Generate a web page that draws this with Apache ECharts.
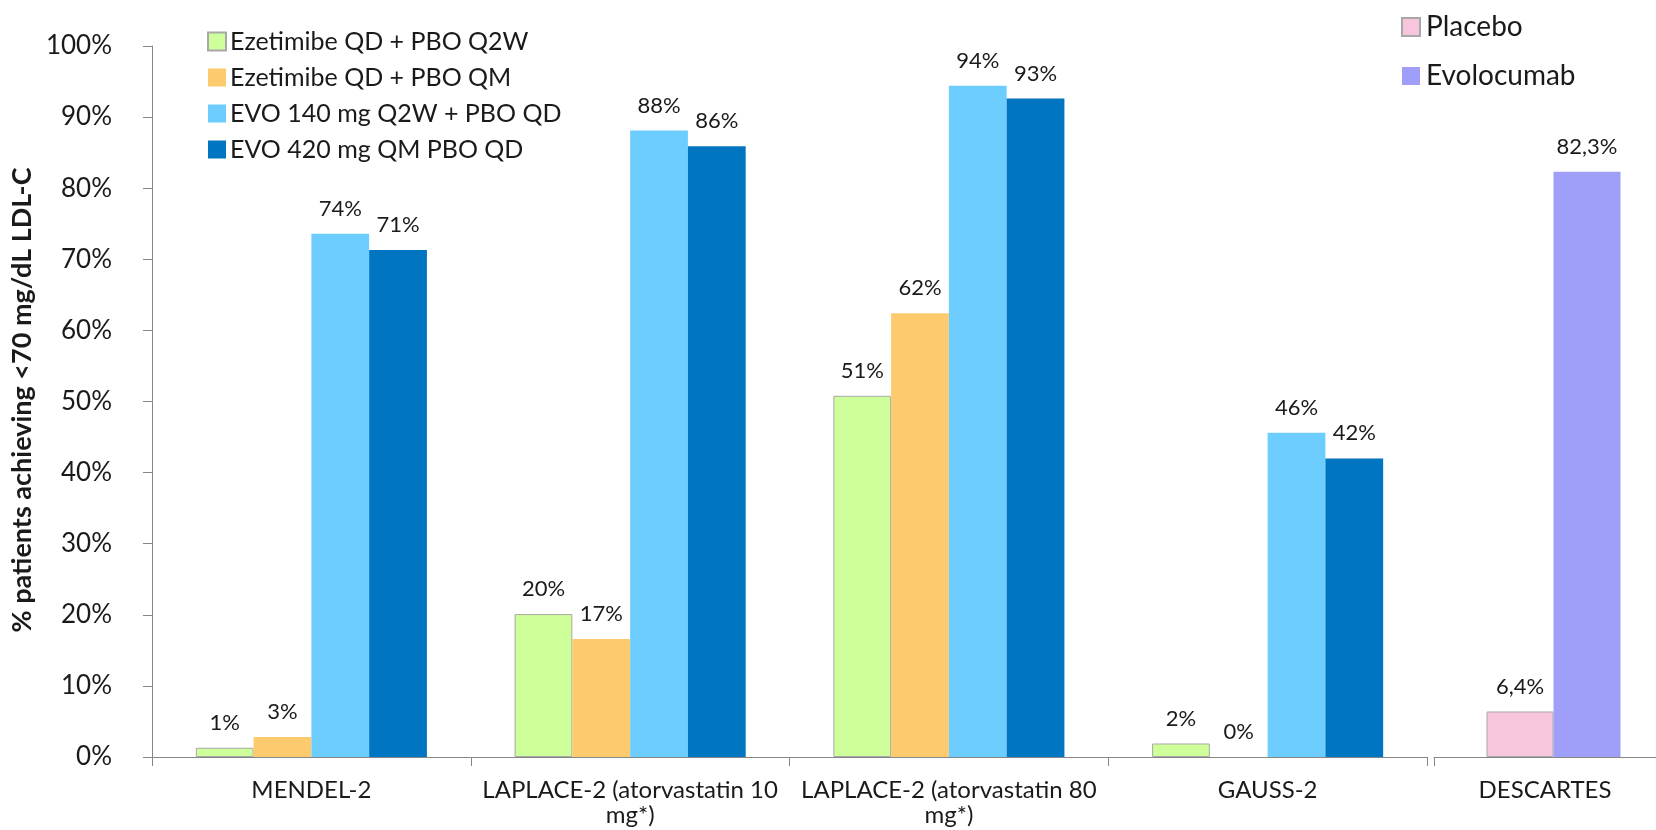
<!DOCTYPE html>
<html>
<head>
<meta charset="utf-8">
<script src="https://cdn.jsdelivr.net/npm/echarts@6/dist/echarts.min.js"></script>
<style>
  html, body { margin: 0; padding: 0; background: #fff; }
  #chart { width: 1656px; height: 830px; }
</style>
</head>
<body>
<div id="chart"></div>
<script>
// Studies sharing the four-arm layout
const categories = [
  'MENDEL-2',
  'LAPLACE-2 (atorvastatin 10\nmg*)',
  'LAPLACE-2 (atorvastatin 80\nmg*)',
  'GAUSS-2'
];
const seriesNames = [
  'Ezetimibe QD + PBO Q2W',
  'Ezetimibe QD + PBO QM',
  'EVO 140 mg Q2W + PBO QD',
  'EVO 420 mg QM PBO QD'
];
// % of patients reaching LDL-C < 70 mg/dL, per arm
const ezeQ2W = [1.3, 20.1, 50.8, 1.9];
const ezeQM = [2.8, 16.6, 62.4, 0];
const evo140 = [73.6, 88.1, 94.4, 45.6];
const evo420 = [71.3, 85.9, 92.6, 42.0];

// DESCARTES trial, drawn in its own panel
const descartesCategory = ['DESCARTES'];
const descartesNames = ['Placebo', 'Evolocumab'];
const placebo = [6.4];
const evolocumab = [82.3];

const yTicks = { min: 0, max: 100, interval: 10 };

const FONT = 'Lato, "Open Sans", sans-serif';
const TXT = '#1a1a1a';
const AXIS = '#868686';

const colors = ['#cfff9b', '#fdcb6e', '#6dcdff', '#0075c2'];
const borders = ['#a8a8a8', null, null, null];
const descColors = ['#f7c6dc', '#9f9ffa'];
const descBorders = ['#a8a8a8', null];

const roundPct = p => Math.round(p.value) + '%';
const commaPct = p => p.value.toFixed(1).replace('.', ',') + '%';

const labelStyle = (fmt) => ({
  show: true,
  position: 'top',
  distance: 14,
  fontFamily: FONT,
  fontSize: 22,
  color: TXT,
  formatter: fmt
});

const mainSeries = [ezeQ2W, ezeQM, evo140, evo420].map((vals, i) => ({
  name: seriesNames[i],
  type: 'bar',
  xAxisIndex: 0,
  yAxisIndex: 0,
  data: vals,
  barGap: '0%',
  barCategoryGap: '27.5%',
  itemStyle: {
    color: colors[i],
    borderColor: borders[i] || colors[i],
    borderWidth: borders[i] ? 1 : 0
  },
  label: labelStyle(roundPct),
  emphasis: { disabled: true }
}));

// DESCARTES bars live in their own plot area (grid 2), slightly right of the labelled axis
const descSeries = [placebo, evolocumab].map((vals, i) => ({
  name: descartesNames[i],
  type: 'bar',
  xAxisIndex: 2,
  yAxisIndex: 2,
  data: vals,
  barGap: '0%',
  barWidth: 67,
  itemStyle: {
    color: descColors[i],
    borderColor: descBorders[i] || descColors[i],
    borderWidth: descBorders[i] ? 1 : 0
  },
  label: labelStyle(commaPct),
  emphasis: { disabled: true }
}));

const xAxisCommon = {
  type: 'category',
  axisLine: { lineStyle: { color: AXIS, width: 1 } },
  axisTick: { show: true, length: 9, lineStyle: { color: AXIS } },
  axisLabel: {
    fontFamily: FONT, fontSize: 24, color: TXT,
    margin: 21, lineHeight: 25, interval: 0
  }
};

const chart = echarts.init(document.getElementById('chart'), null, { renderer: 'canvas' });
chart.setOption({
  animation: false,
  backgroundColor: '#ffffff',
  grid: [
    { left: 152, width: 1275, top: 46, bottom: 73 },
    { left: 1434, right: 0, top: 46, bottom: 73 },
    { left: 1453, right: 2, top: 46, bottom: 73 }
  ],
  legend: [
    {
      data: seriesNames,
      orient: 'vertical',
      left: 202, top: 24,
      itemWidth: 18, itemHeight: 18, itemGap: 11,
      icon: 'rect',
      textStyle: { fontFamily: FONT, fontSize: 25, color: TXT, lineHeight: 25, padding: [0, 0, 0, -1] },
      selectedMode: false
    },
    {
      data: descartesNames,
      orient: 'vertical',
      left: 1396, top: 8,
      itemWidth: 18, itemHeight: 18, itemGap: 21,
      icon: 'rect',
      textStyle: { fontFamily: FONT, fontSize: 28, color: TXT, lineHeight: 28, padding: [0, 0, 0, 1] },
      selectedMode: false
    }
  ],
  xAxis: [
    Object.assign({ gridIndex: 0, data: categories }, xAxisCommon),
    Object.assign({ gridIndex: 1, data: descartesCategory }, xAxisCommon),
    { gridIndex: 2, type: 'category', data: descartesCategory, show: false }
  ],
  yAxis: [
    {
      gridIndex: 0,
      type: 'value',
      min: yTicks.min, max: yTicks.max, interval: yTicks.interval,
      axisLine: { show: true, lineStyle: { color: AXIS, width: 1 } },
      axisTick: { show: true, length: 9, lineStyle: { color: AXIS } },
      splitLine: { show: false },
      axisLabel: {
        fontFamily: FONT, fontSize: 26, color: TXT, margin: 40,
        formatter: v => v + '%'
      }
    },
    {
      gridIndex: 1,
      type: 'value',
      min: yTicks.min, max: yTicks.max, interval: yTicks.interval,
      show: false
    },
    {
      gridIndex: 2,
      type: 'value',
      min: yTicks.min, max: yTicks.max, interval: yTicks.interval,
      show: false
    }
  ],
  graphic: [
    {
      type: 'text',
      x: 22, y: 400,
      rotation: Math.PI / 2,
      style: {
        text: '% patients achieving <70 mg/dL LDL-C',
        fontFamily: FONT, fontSize: 27, fontWeight: 'bold',
        fill: TXT, align: 'center', verticalAlign: 'middle'
      }
    }
  ],
  series: mainSeries.concat(descSeries)
});
</script>
</body>
</html>
